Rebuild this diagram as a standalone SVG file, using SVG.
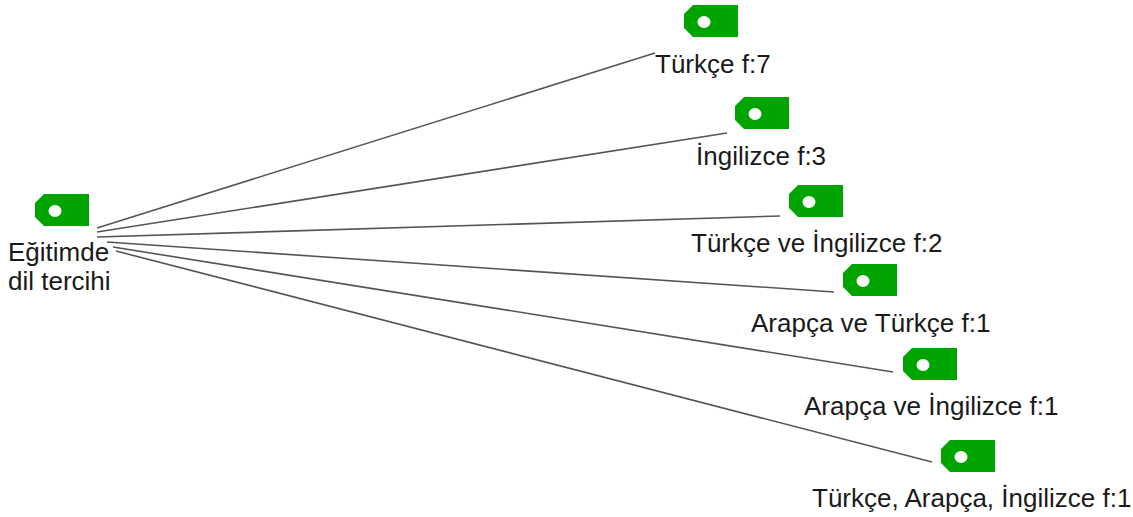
<svg xmlns="http://www.w3.org/2000/svg" width="1133" height="517" viewBox="0 0 1133 517">
<defs>
<style>
.tag{fill:#00a400;}
.hole{fill:#ffffff;}
.lbl{font-family:"Liberation Sans",Arial,sans-serif;font-size:26px;fill:#1a1a1a;}
.edge{stroke:#555555;stroke-width:1.6;fill:none;}
</style>
<g id="tagshape">
<path class="tag" d="M9,0 H54 V32 H9 L0,23 V9 Z"/>
<ellipse class="hole" cx="20" cy="17" rx="6.5" ry="6"/>
</g>
</defs>
<rect width="1133" height="517" fill="#ffffff"/>
<g id="connectors">
<line class="edge" x1="97" y1="228" x2="655" y2="53"/>
<line class="edge" x1="97" y1="232" x2="727" y2="133"/>
<line class="edge" x1="97" y1="237" x2="780" y2="216"/>
<line class="edge" x1="107" y1="242" x2="834" y2="292"/>
<line class="edge" x1="113" y1="247" x2="893" y2="372"/>
<line class="edge" x1="116" y1="251" x2="932" y2="462"/>
</g>
<g id="node-source">
<use href="#tagshape" x="35" y="194"/>
<text class="lbl" x="8" y="261">Eğitimde</text>
<text class="lbl" x="8" y="290">dil tercihi</text>
</g>
<g id="node-turkce">
<use href="#tagshape" x="684" y="5"/>
<text class="lbl" x="655" y="73">Türkçe f:7</text>
</g>
<g id="node-ingilizce">
<use href="#tagshape" x="735" y="97"/>
<text class="lbl" x="696" y="165">İngilizce f:3</text>
</g>
<g id="node-turkce-ingilizce">
<use href="#tagshape" x="789" y="185"/>
<text class="lbl" x="691" y="252">Türkçe ve İngilizce f:2</text>
</g>
<g id="node-arapca-turkce">
<use href="#tagshape" x="843" y="264"/>
<text class="lbl" x="751" y="332">Arapça ve Türkçe f:1</text>
</g>
<g id="node-arapca-ingilizce">
<use href="#tagshape" x="903" y="348"/>
<text class="lbl" x="804" y="415">Arapça ve İngilizce f:1</text>
</g>
<g id="node-uc-dil">
<use href="#tagshape" x="941" y="440"/>
<text class="lbl" x="812" y="507">Türkçe, Arapça, İngilizce f:1</text>
</g>
</svg>
